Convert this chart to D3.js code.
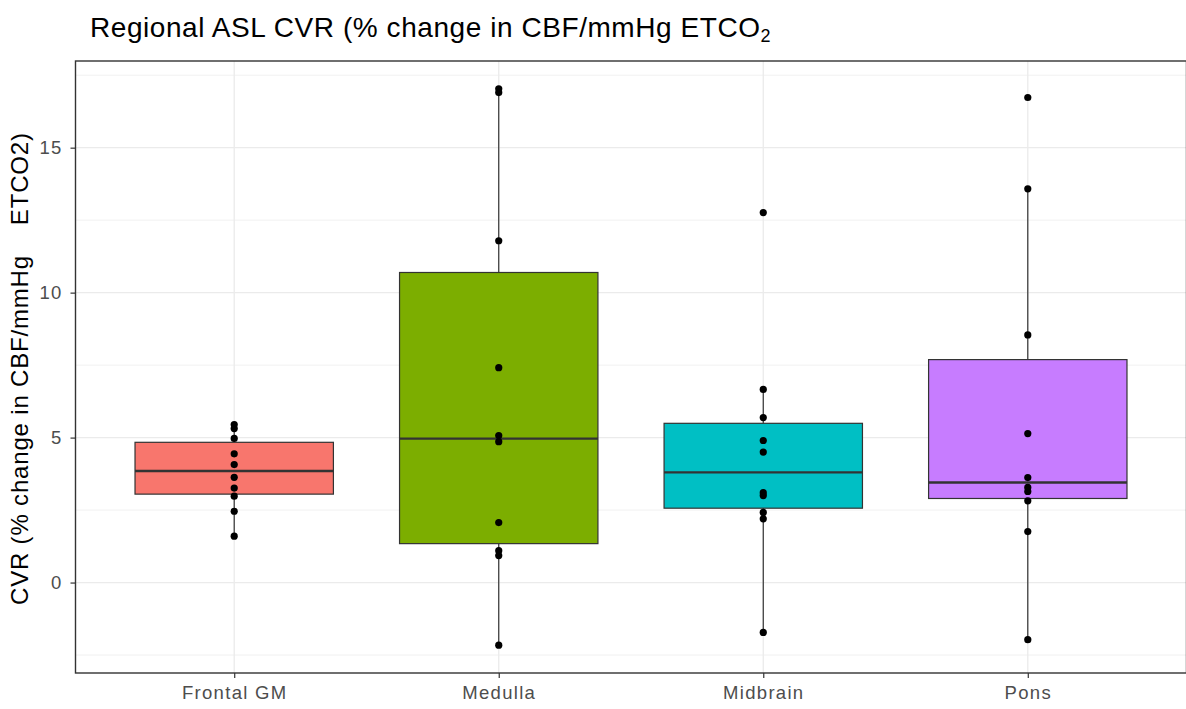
<!DOCTYPE html>
<html>
<head>
<meta charset="utf-8">
<script src="https://cdn.jsdelivr.net/npm/d3@7"></script>
<style>
  html, body { margin: 0; padding: 0; background: #fff; }
  svg { display: block; }
</style>
</head>
<body>
<svg id="chart" width="1186" height="709"></svg>
<script>
// ---------- data ----------
const categories = ["Frontal GM", "Medulla", "Midbrain", "Pons"];
const frontalGM = [5.45, 5.31, 4.97, 4.44, 4.07, 3.63, 3.26, 2.98, 2.46, 1.60];
const medulla   = [17.03, 16.90, 11.79, 7.41, 5.07, 4.86, 2.07, 1.10, 0.93, -2.16];
const midbrain  = [12.76, 6.66, 5.69, 4.90, 4.50, 3.10, 3.00, 2.42, 2.20, -1.72];
const pons      = [16.73, 13.58, 8.54, 5.14, 3.62, 3.28, 3.14, 2.82, 1.76, -1.97];
const fillColors = ["#F8766D", "#7CAE00", "#00BFC4", "#C77CFF"];
const yTicks = [0, 5, 10, 15];
const yMinorTicks = [-2.5, 2.5, 7.5, 12.5, 17.5];
const titleMain = "Regional ASL CVR (% change in CBF/mmHg ETCO";
const titleSub = "2";
const yLabel = "CVR (% change in CBF/mmHg\u00A0\u00A0\u00A0 ETCO2)";

const seriesValues = [frontalGM, medulla, midbrain, pons];

// ---------- layout ----------
const svg = d3.select("#chart");
const panel = { left: 75.5, right: 1186.5, top: 61, bottom: 673 };
const axisFont = "'Liberation Sans', Arial, sans-serif";

const allVals = seriesValues.flat();
const lo = d3.min(allVals), hi = d3.max(allVals);
const pad = (hi - lo) * 0.05;

const x = d3.scalePoint().domain(categories)
  .range([panel.left, panel.right]).padding(0.6);
const y = d3.scaleLinear().domain([lo - pad, hi + pad])
  .range([panel.bottom, panel.top]);

const step = x.step();
const boxW = step * 0.75;

// grid
const g = svg.append("g");
g.selectAll(".minor").data(yMinorTicks).join("line")
  .attr("x1", panel.left).attr("x2", panel.right)
  .attr("y1", d => y(d)).attr("y2", d => y(d))
  .attr("stroke", "#EBEBEB").attr("stroke-width", 0.7);
g.selectAll(".major").data(yTicks).join("line")
  .attr("x1", panel.left).attr("x2", panel.right)
  .attr("y1", d => y(d)).attr("y2", d => y(d))
  .attr("stroke", "#EBEBEB").attr("stroke-width", 1.3);
g.selectAll(".vmajor").data(categories).join("line")
  .attr("x1", d => x(d)).attr("x2", d => x(d))
  .attr("y1", panel.top).attr("y2", panel.bottom)
  .attr("stroke", "#EBEBEB").attr("stroke-width", 1.3);

// boxplots
const stats = seriesValues.map((vals, i) => {
  const s = vals.slice().sort(d3.ascending);
  const q1 = d3.quantile(s, 0.25), med = d3.quantile(s, 0.5), q3 = d3.quantile(s, 0.75);
  const iqr = q3 - q1;
  const wLo = d3.min(s.filter(v => v >= q1 - 1.5 * iqr));
  const wHi = d3.max(s.filter(v => v <= q3 + 1.5 * iqr));
  return { cat: categories[i], q1, med, q3, wLo, wHi, color: fillColors[i] };
});

const bx = svg.append("g");
stats.forEach(st => {
  const cx = x(st.cat);
  bx.append("line").attr("x1", cx).attr("x2", cx)
    .attr("y1", y(st.q3)).attr("y2", y(st.wHi))
    .attr("stroke", "#333333").attr("stroke-width", 1.2);
  bx.append("line").attr("x1", cx).attr("x2", cx)
    .attr("y1", y(st.q1)).attr("y2", y(st.wLo))
    .attr("stroke", "#333333").attr("stroke-width", 1.2);
  bx.append("rect")
    .attr("x", cx - boxW / 2).attr("width", boxW)
    .attr("y", y(st.q3)).attr("height", y(st.q1) - y(st.q3))
    .attr("fill", st.color).attr("stroke", "#333333").attr("stroke-width", 1.2);
  bx.append("line")
    .attr("x1", cx - boxW / 2).attr("x2", cx + boxW / 2)
    .attr("y1", y(st.med)).attr("y2", y(st.med))
    .attr("stroke", "#333333").attr("stroke-width", 2.4);
});

// points
const pts = svg.append("g");
seriesValues.forEach((vals, i) => {
  pts.selectAll(null).data(vals).join("circle")
    .attr("cx", x(categories[i])).attr("cy", d => y(d))
    .attr("r", 3.6).attr("fill", "#000");
});

// panel border
svg.append("rect")
  .attr("x", panel.left).attr("y", panel.top)
  .attr("width", panel.right - panel.left).attr("height", panel.bottom - panel.top)
  .attr("fill", "none").attr("stroke", "#333333").attr("stroke-width", 1.4);

// axes
const yAxis = d3.axisLeft(y).tickValues(yTicks).tickSize(5).tickPadding(8);
const ya = svg.append("g").attr("transform", `translate(${panel.left},0)`).call(yAxis);
ya.select(".domain").remove();
ya.selectAll(".tick line").attr("stroke", "#333333").attr("stroke-width", 1.2);
ya.selectAll(".tick text").attr("fill", "#4D4D4D")
  .style("font-family", axisFont)
  .style("font-size", "18.5px").style("letter-spacing", "1.2px");

const xAxis = d3.axisBottom(x).tickSize(5).tickPadding(8);
const xa = svg.append("g").attr("transform", `translate(0,${panel.bottom})`).call(xAxis);
xa.select(".domain").remove();
xa.selectAll(".tick line").attr("stroke", "#333333").attr("stroke-width", 1.2);
xa.selectAll(".tick text").attr("fill", "#4D4D4D")
  .style("font-family", axisFont)
  .style("font-size", "18.5px").style("letter-spacing", "1.3px");

// title
const t = svg.append("text").attr("x", 90).attr("y", 37)
  .style("font-family", "'Liberation Sans', Arial, sans-serif")
  .style("font-size", "28px").attr("fill", "#000");
t.append("tspan").attr("textLength", 670).attr("lengthAdjust", "spacing").text(titleMain);
t.append("tspan").attr("dy", 5).style("font-size", "18px").text(titleSub);

// y label
svg.append("text")
  .attr("transform", `translate(28,${(panel.top + panel.bottom) / 2 + 2}) rotate(-90)`)
  .attr("text-anchor", "middle")
  .attr("xml:space", "preserve")
  .attr("textLength", 472).attr("lengthAdjust", "spacing")
  .style("white-space", "pre")
  .style("font-family", "'Liberation Sans', Arial, sans-serif")
  .style("font-size", "24px").attr("fill", "#000")
  .text(yLabel);
</script>
</body>
</html>
